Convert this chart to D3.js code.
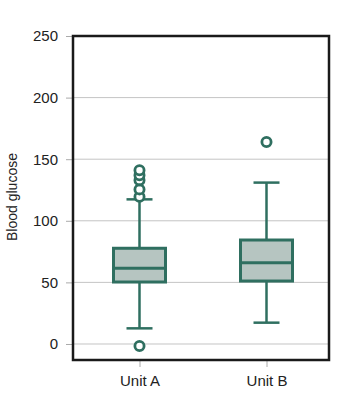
<!DOCTYPE html><head><meta charset="utf-8">
<title>blood glucose</title>
<style>
body { margin: 0; background: white; }
svg text { font-family: "Liberation Sans", Arial, sans-serif; fill: #222; }
</style>
<script src="https://cdn.jsdelivr.net/npm/d3@7"></script>
</head><body>
<div id="chart"></div>
<script>
// values
var units = ["Unit A", "Unit B"];
var q1 = [50.3, 51.1];
var median = [61.4, 66];
var q3 = [77.7, 84.4];
var whiskerLo = [12.7, 17.3];
var whiskerHi = [117.4, 131];
var outliersA = [-1.6, 119.5, 125.5, 133, 137, 141];
var outliersB = [164];
var yTicks = [0, 50, 100, 150, 200, 250];

var width = 359, height = 405;
var frame = {left: 73, right: 329, top: 36, bottom: 360};
var teal = "#2f6f60";

var svg = d3.select("#chart").append("svg")
  .attr("width", width).attr("height", height);

var y = d3.scaleLinear().domain([-13, 250]).range([frame.bottom, frame.top]);
var x = d3.scalePoint().domain(units).range([76, 330]).padding(0.5);

// gridlines
svg.selectAll("line.grid").data(yTicks.slice(0, -1)).join("line").attr("class", "grid")
  .attr("x1", frame.left).attr("x2", frame.right)
  .attr("y1", d => y(d)).attr("y2", d => y(d))
  .attr("stroke", "#c4c4c4").attr("stroke-width", 1);

// y axis
var yAxis = svg.append("g")
  .attr("transform", "translate(" + frame.left + ",0)")
  .call(d3.axisLeft(y).tickValues(yTicks).tickSize(7).tickPadding(8));
yAxis.select(".domain").remove();
yAxis.selectAll(".tick line").attr("stroke", "#aaa");
yAxis.selectAll(".tick text").style("font-size", "15px").attr("fill", "#222");

// x axis
var xAxis = svg.append("g")
  .attr("transform", "translate(0," + frame.bottom + ")")
  .call(d3.axisBottom(x).tickSize(7).tickPadding(8));
xAxis.select(".domain").remove();
xAxis.selectAll(".tick line").attr("stroke", "#aaa");
xAxis.selectAll(".tick text").style("font-size", "15px").attr("fill", "#222");

svg.append("text")
  .attr("transform", "rotate(-90)")
  .attr("x", -197).attr("y", 17)
  .attr("text-anchor", "middle")
  .style("font-size", "14px")
  .text("Blood glucose");

// boxes
var boxW = 52, capW = 26;
var idx = d3.range(units.length);
var g = svg.append("g");

g.selectAll("line.whisk").data(idx).join("line").attr("class", "whisk")
  .attr("x1", i => x(units[i])).attr("x2", i => x(units[i]))
  .attr("y1", i => y(whiskerLo[i])).attr("y2", i => y(whiskerHi[i]))
  .attr("stroke", teal).attr("stroke-width", 2.5);

g.selectAll("line.capLo").data(idx).join("line").attr("class", "capLo")
  .attr("x1", i => x(units[i]) - capW / 2).attr("x2", i => x(units[i]) + capW / 2)
  .attr("y1", i => y(whiskerLo[i])).attr("y2", i => y(whiskerLo[i]))
  .attr("stroke", teal).attr("stroke-width", 2.5);

g.selectAll("line.capHi").data(idx).join("line").attr("class", "capHi")
  .attr("x1", i => x(units[i]) - capW / 2).attr("x2", i => x(units[i]) + capW / 2)
  .attr("y1", i => y(whiskerHi[i])).attr("y2", i => y(whiskerHi[i]))
  .attr("stroke", teal).attr("stroke-width", 2.5);

g.selectAll("rect.box").data(idx).join("rect").attr("class", "box")
  .attr("x", i => x(units[i]) - boxW / 2).attr("width", boxW)
  .attr("y", i => y(q3[i])).attr("height", i => y(q1[i]) - y(q3[i]))
  .attr("fill", "#b6c5c1").attr("stroke", teal).attr("stroke-width", 3);

g.selectAll("line.med").data(idx).join("line").attr("class", "med")
  .attr("x1", i => x(units[i]) - boxW / 2).attr("x2", i => x(units[i]) + boxW / 2)
  .attr("y1", i => y(median[i])).attr("y2", i => y(median[i]))
  .attr("stroke", teal).attr("stroke-width", 3);

var outs = outliersA.map(v => ({u: "Unit A", v: v}))
  .concat(outliersB.map(v => ({u: "Unit B", v: v})));
g.selectAll("circle.out").data(outs).join("circle").attr("class", "out")
  .attr("cx", d => x(d.u)).attr("cy", d => y(d.v)).attr("r", 4.6)
  .attr("fill", "white").attr("stroke", teal).attr("stroke-width", 2.8);

// frame
svg.append("rect")
  .attr("x", frame.left).attr("y", frame.top)
  .attr("width", frame.right - frame.left).attr("height", frame.bottom - frame.top)
  .attr("fill", "none").attr("stroke", "#1a1a1a").attr("stroke-width", 2.5);
</script>
</body></html>
